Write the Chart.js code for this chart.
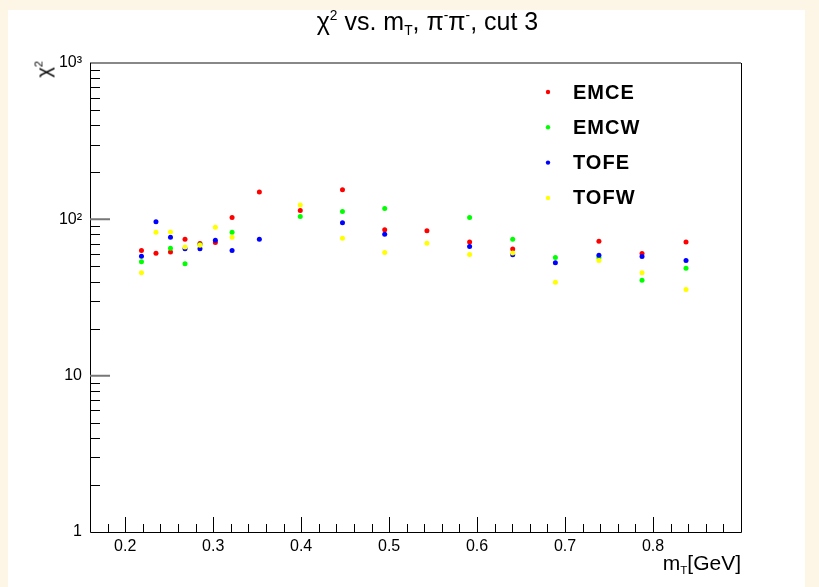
<!DOCTYPE html>
<html lang="en">
<head>
  <meta charset="UTF-8" />
  <title>chi2 vs mT, cut 3</title>
  <script src="https://cdn.jsdelivr.net/npm/chart.js"></script>
  <style>
    html, body {
      margin: 0;
      padding: 0;
      width: 819px;
      height: 587px;
      overflow: hidden;
      background: #fdf6e6;
      font-family: "Liberation Sans", Arial, sans-serif;
    }
    #pad {
      position: absolute;
      left: 8px;
      top: 10px;
      width: 797px;
      height: 577px;
      background: #fff;
    }
    #wrap {
      position: absolute;
      left: 0;
      top: 0;
      width: 819px;
      height: 587px;
    }
    .txt {
      position: absolute;
      color: #000;
      white-space: nowrap;
      pointer-events: none;
    }
    .txt sup, .txt sub {
      font-size: 55%;
      position: relative;
      vertical-align: baseline;
    }
    .txt sup { top: -0.75em; }
    .txt sub { top: 0.35em; }
    #title {
      left: 0;
      width: 855px;
      top: 6px;
      text-align: center;
      font-size: 25px;
      line-height: 30px;
    }
    #ytitle {
      left: 45px;
      top: 61px;
      font-size: 20px;
      line-height: 22px;
      transform-origin: 0 0;
      transform: rotate(-90deg) translate(-100%, -50%);
    }
    #xtitle {
      right: 78px;
      top: 551px;
      font-size: 21px;
      line-height: 24px;
    }
  </style>
</head>
<body>
  <div id="pad"></div>
  <div id="wrap"><canvas id="chi2Chart" width="819" height="587"></canvas></div>
  <div class="txt" id="title">&chi;<sup>2</sup> vs. m<sub>T</sub>, &pi;<sup>-</sup>&pi;<sup>-</sup>, cut 3</div>
  <div class="txt" id="ytitle">&chi;<sup>2</sup></div>
  <div class="txt" id="xtitle">m<sub>T</sub>[GeV]</div>

  <script>
    // mT bin centres (GeV) and chi2 of each fit; null = no fit in that bin
    const mT   = [0.2185, 0.235, 0.2515, 0.268, 0.285, 0.3025, 0.3215, 0.3525, 0.399, 0.447, 0.495, 0.543, 0.5915, 0.6405, 0.689, 0.7385, 0.7875, 0.8375];
    const emce = [63.2, 60.6, 61.9, 74.7, 70.0, 71.0, 102.7, 149.3, 113.8, 154.4, 85.7, 84.4, 71.5, 64.5, null, 72.3, 60.4, 71.5];
    const emcw = [53.5, null, 65.2, 51.9, 68.7, null, 82.8, null, 104.2, 112.2, 117.3, null, 102.7, 74.7, 57.1, 56.9, 40.8, 48.7];
    const tofe = [58.0, 96.4, 76.9, 64.8, 64.8, 73.4, 63.1, 74.7, null, 95.0, 80.4, null, 67.0, 59.3, 52.8, 58.9, 57.8, 54.5];
    const tofw = [45.5, 82.8, 82.9, 66.5, 68.2, 88.9, 76.9, null, 123.4, 75.8, 61.3, 70.4, 59.5, 60.8, 39.6, 54.5, 45.5, 35.6];
    const seriesNames = ["EMCE", "EMCW", "TOFE", "TOFW"];

    const xTicks = [0.2, 0.3, 0.4, 0.5, 0.6, 0.7, 0.8];
    const xTickLabels = ["0.2", "0.3", "0.4", "0.5", "0.6", "0.7", "0.8"];
    const yTicks = [1, 10, 100, 1000];
    const yTickLabels = ["1", "10", "10²", "10³"];

    const colors = ["#ff0000", "#00ff00", "#0000ff", "#ffff00"];
    const tickFont = { family: "Liberation Sans", size: 16 };

    function toPoints(vals) {
      const pts = [];
      vals.forEach((v, i) => { if (v !== null) pts.push({ x: mT[i], y: v }); });
      return pts;
    }

    // frame plus inside tick marks, and the legend box
    const frameTicks = {
      id: "frameTicks",
      afterDraw(chart) {
        const { ctx, chartArea: a, scales: { x, y } } = chart;
        ctx.save();

        ctx.strokeStyle = "#888";
        ctx.lineWidth = 2;
        ctx.beginPath();
        ctx.moveTo(a.left, a.top);
        ctx.lineTo(a.right, a.top);
        ctx.stroke();

        ctx.strokeStyle = "#000";
        ctx.lineWidth = 1;
        ctx.beginPath();
        ctx.moveTo(a.left + 0.5, a.top);
        ctx.lineTo(a.left + 0.5, a.bottom + 0.5);
        ctx.lineTo(a.right + 0.5, a.bottom + 0.5);
        ctx.lineTo(a.right + 0.5, a.top);
        ctx.stroke();

        // x ticks every 0.02, long ones every 0.1
        ctx.beginPath();
        for (let k = 8; k <= 45; k++) {
          const px = Math.round(x.getPixelForValue(k * 0.02)) + 0.5;
          const len = k % 5 === 0 ? 15 : 8;
          ctx.moveTo(px, a.bottom);
          ctx.lineTo(px, a.bottom - len);
        }
        ctx.stroke();

        // y ticks: 2..9 per decade short, decades long
        ctx.beginPath();
        for (let d = 1; d < 1000; d *= 10) {
          for (let m = 2; m <= 9; m++) {
            const py = Math.round(y.getPixelForValue(d * m)) + 0.5;
            ctx.moveTo(a.left, py);
            ctx.lineTo(a.left + 10, py);
          }
        }
        ctx.stroke();
        ctx.strokeStyle = "#777";
        ctx.lineWidth = 2;
        ctx.beginPath();
        [10, 100].forEach(v => {
          const py = y.getPixelForValue(v);
          ctx.moveTo(a.left, py);
          ctx.lineTo(a.left + 20, py);
        });
        ctx.stroke();

        // legend
        ctx.font = "bold 20px 'Liberation Sans'";
        if ("letterSpacing" in ctx) ctx.letterSpacing = "1px";
        ctx.textBaseline = "middle";
        chart.data.datasets.forEach((ds, i) => {
          const ly = 92 + i * 35.3;
          ctx.fillStyle = ds.backgroundColor;
          ctx.beginPath();
          ctx.arc(548, ly, 2.2, 0, Math.PI * 2);
          ctx.fill();
          ctx.fillStyle = "#000";
          ctx.fillText(ds.label, 573, ly + 1);
        });
        ctx.restore();
      }
    };

    const seriesData = [emce, emcw, tofe, tofw];

    const chi2Chart = new Chart(document.getElementById("chi2Chart").getContext("2d"), {
      type: "scatter",
      data: {
        datasets: seriesData.map((vals, i) => ({
          label: seriesNames[i],
          data: toPoints(vals),
          backgroundColor: colors[i],
          borderWidth: 0,
          pointRadius: 2.5,
          pointHoverRadius: 2.5,
          order: 4 - i
        }))
      },
      options: {
        responsive: false,
        animation: false,
        events: [],
        layout: { padding: { top: 63, right: 78, left: 0, bottom: 0 } },
        plugins: {
          legend: { display: false },
          tooltip: { enabled: false },
          title: { display: false }
        },
        scales: {
          x: {
            type: "linear",
            min: 0.16,
            max: 0.9,
            afterBuildTicks: s => { s.ticks = xTicks.map(v => ({ value: v })); },
            afterFit: s => { s.height = 55; },
            grid: { display: false, drawTicks: false },
            border: { display: false },
            ticks: {
              autoSkip: false,
              maxRotation: 0,
              padding: 5,
              color: "#000",
              font: tickFont,
              callback: (v, i) => xTickLabels[i]
            }
          },
          y: {
            type: "logarithmic",
            min: 1,
            max: 1000,
            afterBuildTicks: s => { s.ticks = yTicks.map(v => ({ value: v })); },
            afterFit: s => { s.width = 90; },
            grid: { display: false, drawTicks: false },
            border: { display: false },
            ticks: {
              autoSkip: false,
              padding: 8,
              color: "#000",
              font: tickFont,
              callback: (v, i) => yTickLabels[i]
            }
          }
        }
      },
      plugins: [frameTicks]
    });
  </script>
</body>
</html>
